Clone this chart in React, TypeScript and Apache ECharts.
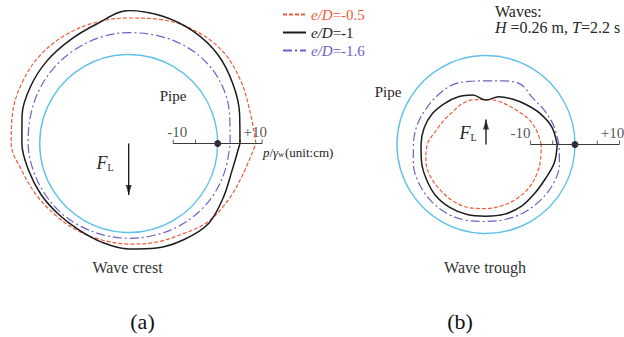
import React, { useEffect, useRef } from "react";
import * as echarts from "echarts";

// angles (deg, counter-clockwise from the right) at which pressure is read
const ANGLES = [0, 15, 30, 45, 60, 75, 90, 105, 120, 135, 150, 165, 180, 195, 210, 225, 240, 255, 270, 285, 300, 315, 330, 345];

// (a) wave crest, p/γw in cm
const A_RED = [8.6, 8.2, 8.9, 9.6, 9.4, 8.8, 8.2, 8.2, 8.2, 8.1, 7.6, 7.0, 6.4, 4.7, 3.7, 3.0, 2.7, 2.5, 2.6, 3.0, 3.6, 5.0, 5.7, 6.6];
const A_BLACK = [5.0, 5.8, 7.0, 8.3, 9.1, 9.6, 9.9, 7.8, 6.7, 6.1, 5.5, 4.8, 4.0, 3.3, 2.8, 2.4, 2.4, 3.0, 3.7, 4.3, 4.9, 5.4, 4.5, 4.0];
const A_BLUE = [2.8, 3.5, 4.6, 5.2, 5.3, 5.1, 4.9, 4.7, 4.3, 3.9, 3.4, 2.9, 2.6, 2.3, 2.0, 1.8, 1.5, 1.3, 1.3, 1.4, 1.7, 2.0, 2.3, 2.5];

// (b) wave trough
const B_RED = [-7.6, -8.2, -8.8, -9.6, -9.9, -9.9, -9.9, -9.6, -9.4, -9.5, -9.1, -8.3, -6.8, -6.0, -5.6, -5.5, -5.3, -5.3, -5.6, -5.8, -6.0, -6.3, -6.8, -7.3];
const B_BLACK = [-4.0, -4.7, -6.0, -7.3, -8.2, -8.9, -10.0, -8.5, -7.6, -6.9, -6.1, -5.6, -5.4, -5.0, -4.5, -3.9, -3.7, -3.7, -3.9, -3.8, -4.0, -4.5, -4.6, -4.1];
const B_BLUE = [-3.6, -4.2, -4.8, -5.2, -4.4, -5.2, -5.7, -5.3, -4.6, -4.5, -4.3, -3.9, -3.7, -3.1, -2.6, -2.3, -2.2, -2.4, -2.7, -2.6, -2.5, -2.5, -2.5, -2.9];

const SERIES_NAMES = ["e/D=-0.5", "e/D=-1", "e/D=-1.6"];
const SCALE_TICKS = [-10, -5, 5, 10];
const SCALE_LABELS = ["-10", "+10"];
const SCALE_LABEL_VALUES = [-10, 10];
const PIPE_HEAD = 20; // pipe radius expressed in the same cm scale
const R_MAX = 30;

const RED = "#ee5a3a";
const BLACK = "#1c1c1c";
const BLUE = "#6a62c8";
const CYAN = "#5ec2ea";
const TEXT = "#262626";
const FONT = '"Liberation Serif", "Times New Roman", serif';

const PX_PER_CM = 4.45;
const CENTER_A = [128.7, 143.5];
const CENTER_B = [486, 144.5];

function closed(vals: number[]) {
  const pts = ANGLES.map((a, i) => [PIPE_HEAD + vals[i], a]);
  pts.push([PIPE_HEAD + vals[0], 360]);
  return pts;
}

function curve(name: string, vals: number[], polarIndex: number, color: string, type: any, width: number) {
  return {
    type: "line",
    name,
    coordinateSystem: "polar",
    polarIndex,
    data: closed(vals),
    smooth: 0.35,
    symbol: "none",
    clip: false,
    silent: true,
    lineStyle: { color, width, type },
    itemStyle: { color },
  };
}

function panelDecor(polarIndex: number, labelOffsets: number[][], arrowAngle: number, arrowLen: number) {
  const out: any[] = [];
  out.push({
    type: "line",
    coordinateSystem: "polar",
    polarIndex,
    data: [[PIPE_HEAD - 10, 0], [PIPE_HEAD + 10, 0]],
    symbol: "none",
    clip: false,
    silent: true,
    lineStyle: { color: "#3a3a3a", width: 1 },
  });
  out.push({
    type: "scatter",
    coordinateSystem: "polar",
    polarIndex,
    data: SCALE_TICKS.map((t) => [PIPE_HEAD + t, 0]),
    symbol: "rect",
    symbolSize: [1, 4],
    symbolOffset: [0, -2],
    silent: true,
    itemStyle: { color: "#3a3a3a" },
  });
  out.push({
    type: "scatter",
    coordinateSystem: "polar",
    polarIndex,
    data: [[PIPE_HEAD, 0]],
    symbol: "circle",
    symbolSize: 7,
    silent: true,
    itemStyle: { color: "#000" },
  });
  out.push({
    type: "scatter",
    coordinateSystem: "polar",
    polarIndex,
    data: SCALE_LABEL_VALUES.map((v, i) => ({
      value: [PIPE_HEAD + v, 0],
      label: { offset: labelOffsets[i], formatter: SCALE_LABELS[i] },
    })),
    symbolSize: 1,
    silent: true,
    itemStyle: { color: "rgba(0,0,0,0)" },
    label: { show: true, position: "inside", color: TEXT, fontFamily: FONT, fontSize: 15 },
  });
  out.push({
    type: "line",
    coordinateSystem: "polar",
    polarIndex,
    data: [[0, arrowAngle], [arrowLen, arrowAngle]],
    symbol: "none",
    clip: false,
    silent: true,
    lineStyle: { color: "#111", width: 1.3 },
  });
  out.push({
    type: "scatter",
    coordinateSystem: "polar",
    polarIndex,
    data: [[arrowLen - 5 / PX_PER_CM, arrowAngle]],
    symbol: "triangle",
    symbolSize: [6, 10],
    symbolRotate: arrowAngle === 270 ? 180 : 0,
    silent: true,
    itemStyle: { color: "#111" },
  });
  return out;
}

export default function App() {
  const ref = useRef<HTMLDivElement>(null);
  useEffect(() => {
    if (!ref.current) return;
    const chart = echarts.init(ref.current, null, { renderer: "svg" });
    const polarR = R_MAX * PX_PER_CM;
    const pipeR = PIPE_HEAD * PX_PER_CM;
    const hiddenAngle = (polarIndex: number, showLine: boolean) => ({
      type: "value",
      polarIndex,
      min: 0,
      max: 360,
      startAngle: 0,
      clockwise: false,
      axisLine: { show: showLine, lineStyle: { color: CYAN, width: 1.4 } },
      axisTick: { show: false },
      axisLabel: { show: false },
      splitLine: { show: false },
    });
    const hiddenRadius = (polarIndex: number, max: number) => ({
      type: "value",
      polarIndex,
      min: 0,
      max,
      axisLine: { show: false },
      axisTick: { show: false },
      axisLabel: { show: false },
      splitLine: { show: false },
    });
    const option: any = {
      animation: false,
      polar: [
        { center: CENTER_A, radius: pipeR },
        { center: CENTER_A, radius: polarR },
        { center: CENTER_B, radius: pipeR },
        { center: CENTER_B, radius: polarR },
      ],
      angleAxis: [hiddenAngle(0, true), hiddenAngle(1, false), hiddenAngle(2, true), hiddenAngle(3, false)],
      radiusAxis: [hiddenRadius(0, PIPE_HEAD), hiddenRadius(1, R_MAX), hiddenRadius(2, PIPE_HEAD), hiddenRadius(3, R_MAX)],
      legend: {
        orient: "vertical",
        left: 277,
        top: 2,
        itemWidth: 23,
        itemHeight: 14,
        itemGap: 3,
        selectedMode: false,
        itemStyle: { color: "rgba(0,0,0,0)", borderColor: "rgba(0,0,0,0)", borderWidth: 0 },
        data: [
          { name: SERIES_NAMES[0], textStyle: { color: RED } },
          { name: SERIES_NAMES[1], textStyle: { color: BLACK } },
          { name: SERIES_NAMES[2], textStyle: { color: BLUE } },
        ],
        formatter: (name: string) => `{i|e/D}{n|${name.slice(3)}}`,
        textStyle: {
          fontFamily: FONT,
          fontSize: 15,
          rich: {
            i: { fontFamily: FONT, fontSize: 15, fontStyle: "italic" },
            n: { fontFamily: FONT, fontSize: 15 },
          },
        },
      },
      series: [
        curve(SERIES_NAMES[0], A_RED, 1, RED, [4, 2], 1.2),
        curve(SERIES_NAMES[1], A_BLACK, 1, BLACK, "solid", 1.5),
        curve(SERIES_NAMES[2], A_BLUE, 1, BLUE, [9, 3, 2, 3], 1.2),
        curve(SERIES_NAMES[0], B_RED, 3, RED, [4, 2], 1.2),
        curve(SERIES_NAMES[1], B_BLACK, 3, BLACK, "solid", 1.5),
        curve(SERIES_NAMES[2], B_BLUE, 3, BLUE, [9, 3, 2, 3], 1.2),
        ...panelDecor(1, [[4, -12], [-7, -12]], 270, 11.6),
        ...panelDecor(3, [[-10, -12], [-7, -12]], 90, 5.6),
      ],
      graphic: [
        { type: "text", x: 173, y: 96, style: { text: "Pipe", font: `15px ${FONT}`, fill: TEXT, textAlign: "center", textVerticalAlign: "middle" } },
        { type: "text", x: 388, y: 92, style: { text: "Pipe", font: `15px ${FONT}`, fill: TEXT, textAlign: "center", textVerticalAlign: "middle" } },
        {
          type: "text", x: 105, y: 163,
          style: {
            text: "{f|F}{s|L}", textAlign: "center", textVerticalAlign: "middle", fill: TEXT,
            rich: { f: { fontFamily: FONT, fontSize: 18, fontStyle: "italic", fill: TEXT }, s: { fontFamily: FONT, fontSize: 10, fill: TEXT, verticalAlign: "bottom", padding: [6, 0, 0, 0] } },
          },
        },
        {
          type: "text", x: 468, y: 133,
          style: {
            text: "{f|F}{s|L}", textAlign: "center", textVerticalAlign: "middle", fill: TEXT,
            rich: { f: { fontFamily: FONT, fontSize: 18, fontStyle: "italic", fill: TEXT }, s: { fontFamily: FONT, fontSize: 10, fill: TEXT, verticalAlign: "bottom", padding: [6, 0, 0, 0] } },
          },
        },
        {
          type: "text", x: 263, y: 152,
          style: {
            text: "{i|p}{n|/}{i|γ}{s|w}{n|(unit:cm)}", textAlign: "left", textVerticalAlign: "middle", fill: TEXT,
            rich: {
              i: { fontFamily: FONT, fontSize: 13, fontStyle: "italic", fill: TEXT },
              n: { fontFamily: FONT, fontSize: 13, fill: TEXT },
              s: { fontFamily: FONT, fontSize: 8, fill: TEXT, verticalAlign: "bottom", padding: [5, 1, 0, 0] },
            },
          },
        },
        { type: "text", x: 495, y: 11, style: { text: "Waves:", font: `16px ${FONT}`, fill: TEXT, textAlign: "left", textVerticalAlign: "middle" } },
        {
          type: "text", x: 495, y: 27,
          style: {
            text: "{i|H}{n| =0.26 m, }{i|T}{n|=2.2 s}", textAlign: "left", textVerticalAlign: "middle", fill: TEXT,
            rich: { i: { fontFamily: FONT, fontSize: 16, fontStyle: "italic", fill: TEXT }, n: { fontFamily: FONT, fontSize: 16, fill: TEXT } },
          },
        },
        { type: "text", x: 127.5, y: 267, style: { text: "Wave crest", font: `16px ${FONT}`, fill: "#333", textAlign: "center", textVerticalAlign: "middle" } },
        { type: "text", x: 485, y: 267, style: { text: "Wave trough", font: `16px ${FONT}`, fill: "#333", textAlign: "center", textVerticalAlign: "middle" } },
        { type: "text", x: 142.5, y: 321, style: { text: "(a)", font: `22px ${FONT}`, fill: "#111", textAlign: "center", textVerticalAlign: "middle" } },
        { type: "text", x: 460, y: 321, style: { text: "(b)", font: `22px ${FONT}`, fill: "#111", textAlign: "center", textVerticalAlign: "middle" } },
      ],
    };
    chart.setOption(option);
    return () => chart.dispose();
  }, []);
  return <div ref={ref} style={{ position: "fixed", left: 0, top: 0, width: 624, height: 337, background: "#fff" }} />;
}
